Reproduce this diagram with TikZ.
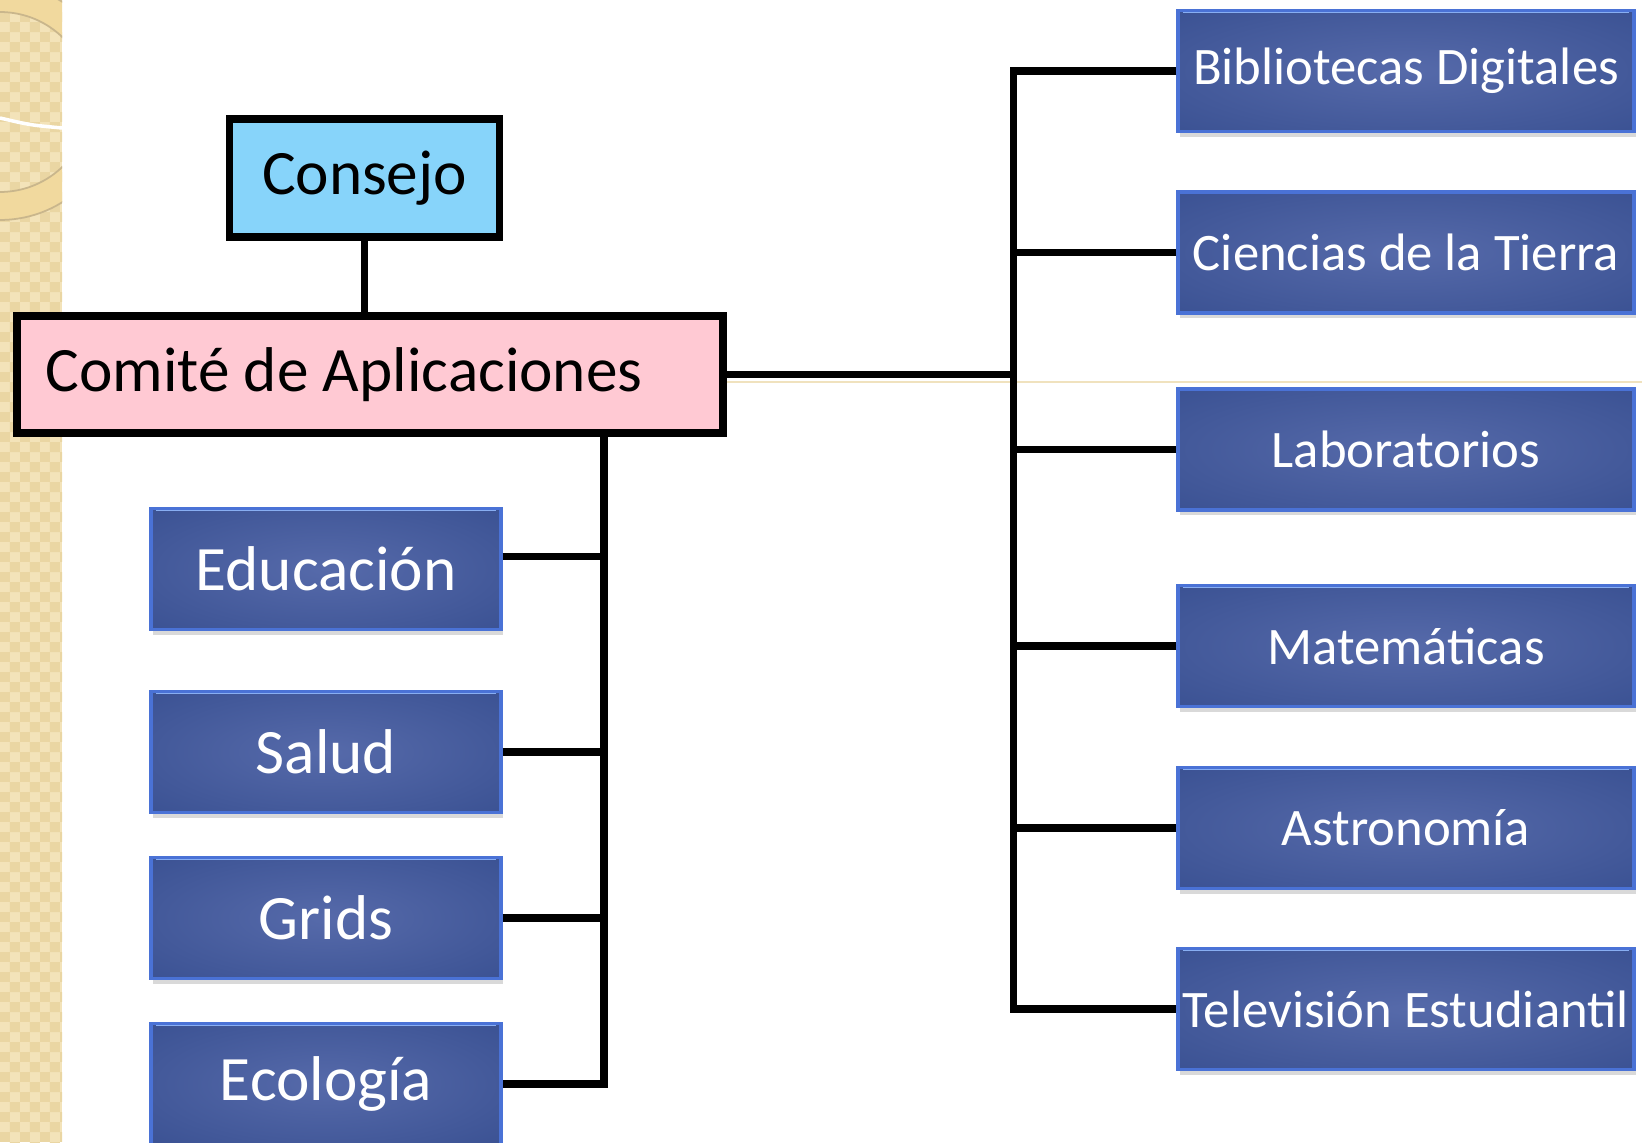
\documentclass[tikz,border=0pt]{standalone}
\usepackage{fontspec}
\setmainfont{Carlito}
\usetikzlibrary{shadows}
\usetikzlibrary{patterns}
\definecolor{consejo}{HTML}{87D4FA}
\definecolor{comite}{HTML}{FFC9D3}
\definecolor{bluedark}{HTML}{30488A}
\definecolor{bluelight}{HTML}{566AAA}
\definecolor{blueedge}{HTML}{4A72D6}
\definecolor{bluehigh}{HTML}{88AEF2}
\definecolor{strip}{HTML}{F3E3B9}
\definecolor{stripdot}{HTML}{EAD6A3}
\definecolor{ring}{HTML}{F1D99E}
\definecolor{ringline}{HTML}{C9B68C}
\pgfdeclareradialshading{boxglow}{\pgfpoint{0bp}{0bp}}{color(0bp)=(bluelight); color(50bp)=(bluedark); color(75bp)=(bluedark)}
\tikzset{
  link/.style={line width=4pt},
  topbox/.style={draw, line width=4.5pt, inner sep=0pt, font=\fontsize{36}{40}\selectfont},
  area/.style={draw=blueedge, line width=2pt, shading=boxglow,
    text=white, inner sep=0pt, drop shadow={opacity=.3, shadow xshift=1pt, shadow yshift=-3pt},
    path picture={\draw[bluehigh, line width=2.5pt] ([xshift=3pt]path picture bounding box.north west) -- ([xshift=-3pt]path picture bounding box.north east);
      \draw[blueedge!80!white, line width=2pt] ([xshift=3pt]path picture bounding box.south west) -- ([xshift=-3pt]path picture bounding box.south east);}},
  leftarea/.style={area, minimum width=7cm, minimum height=2.42cm, font=\fontsize{36}{40}\selectfont},
  rightarea/.style={area, minimum width=9.12cm, minimum height=2.42cm, font=\fontsize{30}{34}\selectfont}
}

\begin{document}
\begin{tikzpicture}[x=0.02cm, y=-0.02cm]
\useasboundingbox (0,0) rectangle (1642,1142);
\fill[strip] (0,0) rectangle (62,1142);
\fill[pattern=checkerboard, pattern color=stripdot] (0,0) rectangle (62,1142);
\begin{scope}
  \clip (0,0) rectangle (62,1142);
  \fill[ring, even odd rule] (0,102) circle[radius=2.36cm] (0,102) circle[radius=1.8cm];
  \draw[ringline, line width=1pt] (0,102) circle[radius=2.36cm] (0,102) circle[radius=1.8cm];
  \draw[white, line width=2pt] (0,118) .. controls (30,125) .. (62,128);
\end{scope}
\draw[stripdot!70!white, line width=0.8pt] (62,382) -- (1642,382);

\node[topbox, fill=consejo, minimum width=5.4cm, minimum height=2.36cm] (consejo) at (364.5,178) {Consejo};
\node[topbox, fill=comite, minimum width=14.12cm, minimum height=2.34cm] (comite) at (370,374.5) {Comité de Aplicaciones\hspace*{1.04cm}};

\node[leftarea] (edu) at (326,569) {Educación};
\node[leftarea] (salud) at (326,752) {Salud};
\node[leftarea] (grids) at (326,918) {Grids};
\node[leftarea] (eco) at (326,1084) {Ecología};

\node[rightarea] (bib) at (1406,71) {Bibliotecas Digitales};
\node[rightarea] (tierra) at (1406,252.5) {Ciencias de la Tierra};
\node[rightarea] (lab) at (1406,449.5) {Laboratorios};
\node[rightarea] (mat) at (1406,646) {Matemáticas};
\node[rightarea] (astro) at (1406,828) {Astronomía};
\node[rightarea] (tv) at (1406,1009) {Televisión Estudiantil};

\coordinate (lbus) at (604,1085);
\coordinate (rbus) at (1013,374.5);

\draw[link] (consejo.south) -- (consejo.south |- comite.north);
\draw[link] (comite.south -| lbus) |- (eco.east);
\draw[link] ([yshift=7pt]edu.east) -- ([yshift=7pt]edu.east -| lbus);
\draw[link] (salud.east) -- (salud.east -| lbus);
\draw[link] (grids.east) -- (grids.east -| lbus);

\draw[link] (bib.west) -- (bib.west -| rbus) -- (tv.west -| rbus) -- (tv.west);
\draw[link] (comite.east) -- (rbus);
\draw[link] (tierra.west) -- (tierra.west -| rbus);
\draw[link] (lab.west) -- (lab.west -| rbus);
\draw[link] (mat.west) -- (mat.west -| rbus);
\draw[link] (astro.west) -- (astro.west -| rbus);
\end{tikzpicture}
\end{document}
